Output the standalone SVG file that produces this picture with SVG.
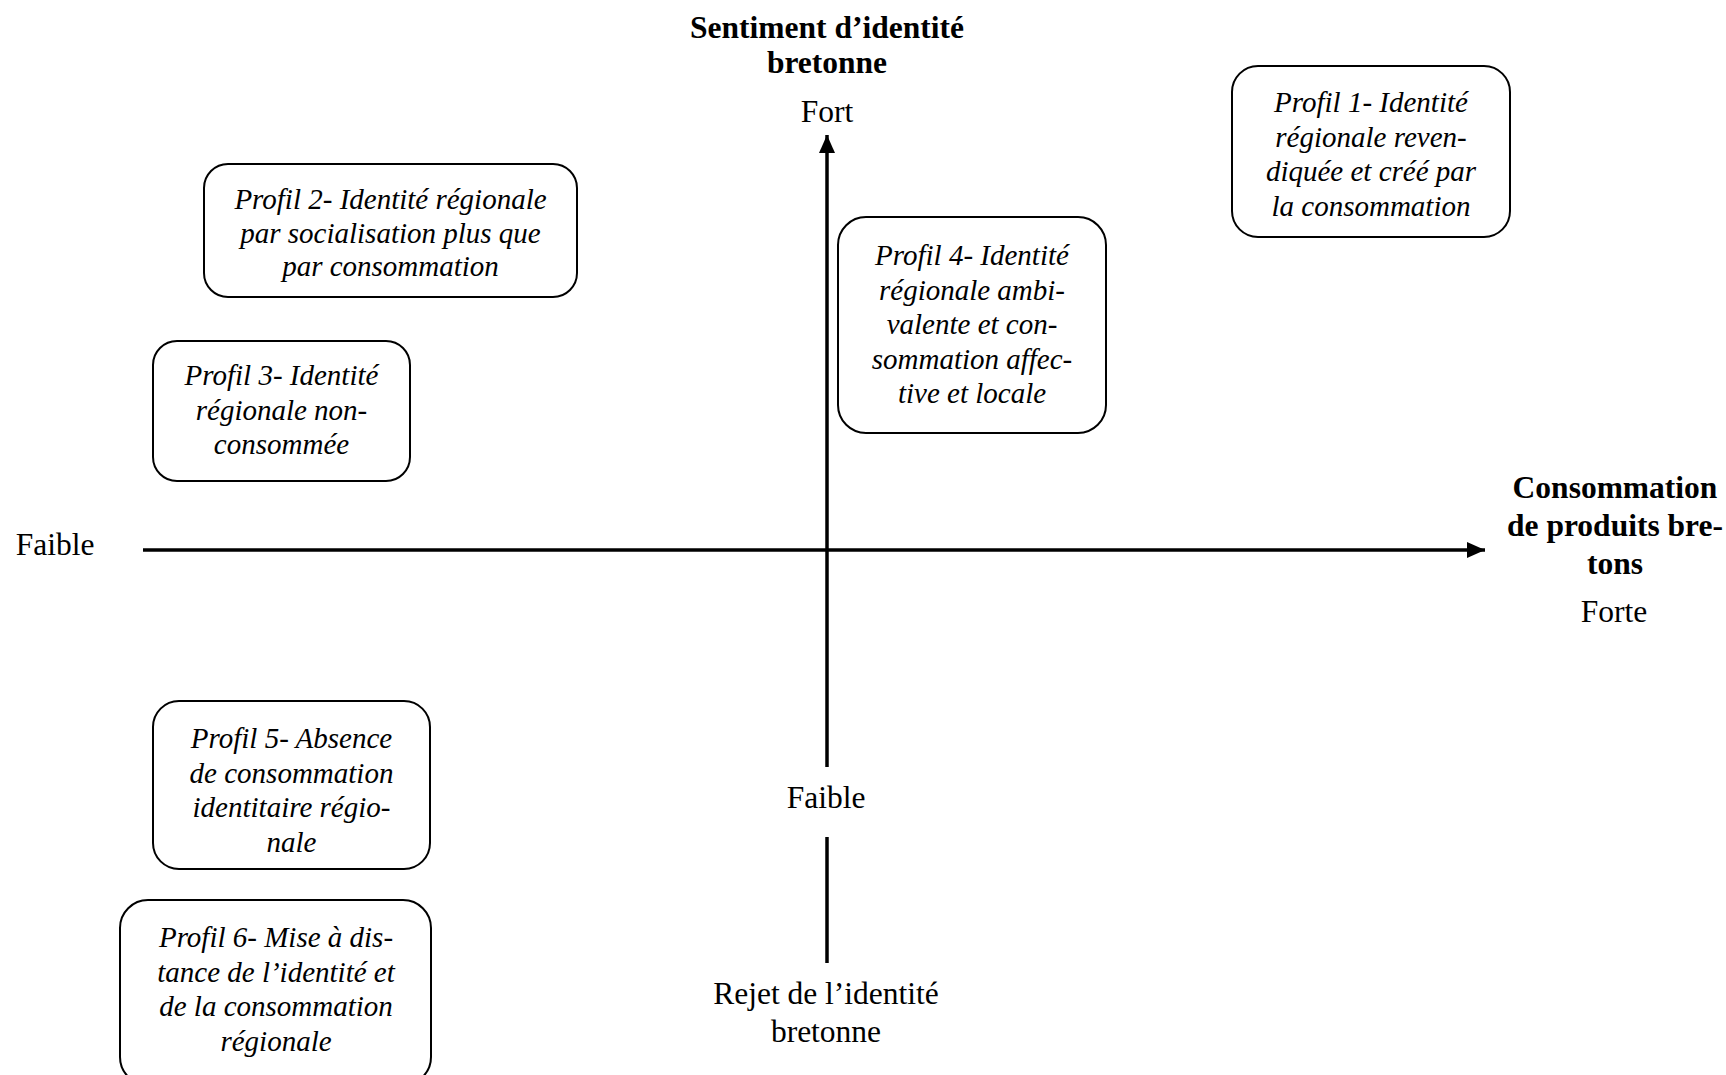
<svg xmlns="http://www.w3.org/2000/svg" width="1726" height="1075" viewBox="0 0 1726 1075">
<style>
text{font-family:"Liberation Serif","Times New Roman",serif;fill:#000;text-anchor:middle}
.b{font-weight:bold;font-size:31.5px}
.r{font-size:31.5px}
.i{font-style:italic;font-size:29px}
.box{fill:#fff;stroke:#000;stroke-width:2}
.ax{stroke:#000;stroke-width:3.5;fill:none}
</style>
<defs>
<marker id="ah" markerUnits="userSpaceOnUse" markerWidth="20" markerHeight="16" refX="18" refY="8" orient="auto">
<path d="M0,0 L18,8 L0,16 Z" fill="#000"/>
</marker>
</defs>
<g id="connectors">
<line class="ax" x1="143" y1="550" x2="1485" y2="550" marker-end="url(#ah)"/>
<line class="ax" x1="827" y1="767" x2="827" y2="135" marker-end="url(#ah)"/>
<line class="ax" x1="827" y1="837" x2="827" y2="963"/>
</g>
<g id="axis-y-title">
<text class="b" x="827" y="38">Sentiment d’identité</text>
<text class="b" x="827" y="73">bretonne</text>
<text class="r" x="827" y="122">Fort</text>
</g>
<g id="axis-y-low">
<text class="r" x="826" y="808">Faible</text>
</g>
<g id="axis-y-reject">
<text class="r" x="826" y="1004">Rejet de l’identité</text>
<text class="r" x="826" y="1042">bretonne</text>
</g>
<g id="axis-x-low">
<text class="r" x="55" y="555">Faible</text>
</g>
<g id="axis-x-title">
<text class="b" x="1615" y="498">Consommation</text>
<text class="b" x="1615" y="536">de produits bre-</text>
<text class="b" x="1615" y="574">tons</text>
<text class="r" x="1614" y="622">Forte</text>
</g>
<g id="profil1">
<rect class="box" x="1232" y="66" width="278" height="171" rx="26"/>
<text class="i" x="1371" y="112">Profil 1- Identité</text>
<text class="i" x="1371" y="146.5">régionale reven-</text>
<text class="i" x="1371" y="181">diquée et créé par</text>
<text class="i" x="1371" y="215.5">la consommation</text>
</g>
<g id="profil2">
<rect class="box" x="204" y="164" width="373" height="133" rx="24"/>
<text class="i" x="390.5" y="209">Profil 2- Identité régionale</text>
<text class="i" x="390.5" y="242.5">par socialisation plus que</text>
<text class="i" x="390.5" y="276">par consommation</text>
</g>
<g id="profil3">
<rect class="box" x="153" y="341" width="257" height="140" rx="24"/>
<text class="i" x="281.5" y="385">Profil 3- Identité</text>
<text class="i" x="281.5" y="419.5">régionale non-</text>
<text class="i" x="281.5" y="454">consommée</text>
</g>
<g id="profil4">
<rect class="box" x="838" y="217" width="268" height="216" rx="28"/>
<text class="i" x="972" y="265">Profil 4- Identité</text>
<text class="i" x="972" y="299.5">régionale ambi-</text>
<text class="i" x="972" y="334">valente et con-</text>
<text class="i" x="972" y="368.5">sommation affec-</text>
<text class="i" x="972" y="403">tive et locale</text>
</g>
<g id="profil5">
<rect class="box" x="153" y="701" width="277" height="168" rx="26"/>
<text class="i" x="291.5" y="748">Profil 5- Absence</text>
<text class="i" x="291.5" y="782.5">de consommation</text>
<text class="i" x="291.5" y="817">identitaire régio-</text>
<text class="i" x="291.5" y="851.5">nale</text>
</g>
<g id="profil6">
<rect class="box" x="120" y="900" width="311" height="185" rx="28"/>
<text class="i" x="276" y="947">Profil 6- Mise à dis-</text>
<text class="i" x="276" y="981.5">tance de l’identité et</text>
<text class="i" x="276" y="1016">de la consommation</text>
<text class="i" x="276" y="1050.5">régionale</text>
</g>
</svg>
